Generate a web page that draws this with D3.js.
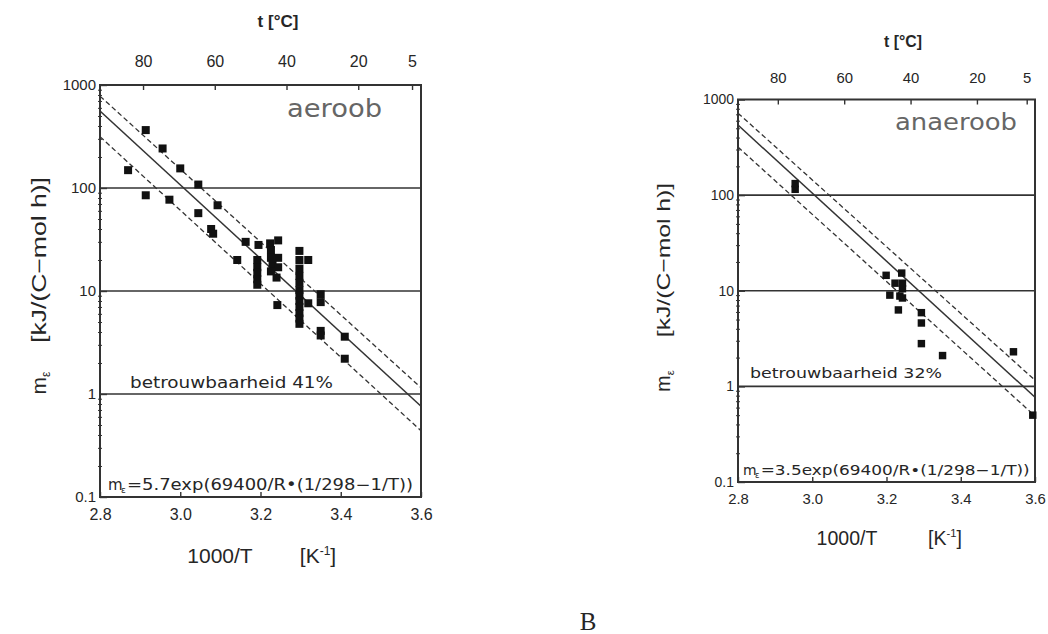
<!DOCTYPE html>
<html>
<head>
<meta charset="utf-8">
<script src="https://cdn.jsdelivr.net/npm/d3@7"></script>
<style>
body { margin: 0; background: #fff; }
svg text { fill: #262626; }
.tick line { stroke: #333; }
</style>
</head>
<body>
<div id="chart"></div>
<script>
// values
var xTicks = [2.8, 3.0, 3.2, 3.4, 3.6];
var yTicks = [0.1, 1, 10, 100, 1000];
var gridVals = [1, 10, 100];
var tTicks = [80, 60, 40, 20, 5];

// aerobic points [1000/T, m_e]
var aeroob = [
  [2.870, 149], [2.914, 365], [2.914, 85], [2.956, 242], [2.973, 77],
  [3.000, 155], [3.045, 108], [3.045, 57], [3.093, 68], [3.077, 40],
  [3.082, 36], [3.163, 30], [3.142, 20], [3.195, 28], [3.224, 29],
  [3.244, 31], [3.192, 20], [3.192, 17], [3.192, 15], [3.192, 13],
  [3.192, 11.5], [3.226, 25], [3.226, 21], [3.230, 18], [3.226, 15.5],
  [3.240, 13.5], [3.244, 21], [3.244, 17], [3.242, 7.3], [3.297, 24.5],
  [3.297, 20], [3.297, 16.5], [3.297, 14], [3.297, 12], [3.297, 10.2],
  [3.297, 9], [3.297, 8], [3.297, 7], [3.297, 6.1], [3.297, 5.4],
  [3.297, 4.8], [3.319, 20], [3.319, 7.6], [3.350, 9.3], [3.350, 7.8],
  [3.350, 4.1], [3.350, 3.7], [3.410, 3.6], [3.410, 2.2]
];
// anaerobic points
var anaeroob = [
  [2.954, 115], [2.954, 132], [3.199, 14.5], [3.241, 15.3], [3.223, 12],
  [3.243, 12], [3.243, 10.5], [3.209, 9], [3.236, 8.8], [3.243, 8.4],
  [3.232, 6.3], [3.294, 5.9], [3.294, 4.6], [3.294, 2.8], [3.351, 2.1],
  [3.542, 2.3], [3.594, 0.5]
];

// fitted line and band ends (straight on the log axis)
var fitAero = [[2.8, 560], [3.6, 0.76]];
var upperAero = [[2.8, 780], [3.6, 1.15]];
var lowerAero = [[2.8, 315], [3.6, 0.44]];
var fitAnaero = [[2.8, 540], [3.6, 0.77]];
var upperAnaero = [[2.8, 720], [3.6, 1.16]];
var lowerAnaero = [[2.8, 318], [3.6, 0.49]];

var width = 1048, height = 634;
var svg = d3.select("#chart").append("svg").attr("width", width).attr("height", height);
var sans = "Liberation Sans, Arial, sans-serif";
var plotFont = "DejaVu Sans, sans-serif";

function panel(o) {
  var s = o.s;
  var x = d3.scaleLinear().domain([2.8, 3.6]).range([o.x0, o.x1]);
  var y = d3.scaleLog().domain([0.1, 1000]).range([o.y1, o.y0]);
  var tx = d3.scaleLinear().domain([92, 2.5]).range([o.x0, o.x1]);
  var g = svg.append("g");

  g.append("clipPath").attr("id", "clip" + o.id).append("rect")
    .attr("x", o.x0).attr("y", o.y0).attr("width", o.x1 - o.x0).attr("height", o.y1 - o.y0);

  // grid lines at 1, 10, 100
  g.selectAll(".grid").data(gridVals).enter().append("line")
    .attr("x1", o.x0).attr("x2", o.x1)
    .attr("y1", function(d) { return y(d); }).attr("y2", function(d) { return y(d); })
    .attr("stroke", "#333").attr("stroke-width", 1.6);

  // minor log ticks
  var minors = [];
  [0.1, 1, 10, 100].forEach(function(b) {
    for (var k = 2; k <= 9; k++) minors.push(b * k);
  });
  g.append("g").attr("transform", "translate(" + (o.x0 + 2) + ",0)")
    .call(d3.axisLeft(y).tickValues(minors).tickSize(4).tickFormat(""))
    .call(function(a) { a.select(".domain").remove(); });

  // y labels
  g.append("g").attr("transform", "translate(" + o.x0 + ",0)")
    .call(d3.axisLeft(y).tickValues(yTicks).tickSize(-7).tickPadding(4).tickFormat(d3.format("~g")))
    .call(function(a) {
      a.select(".domain").remove();
      a.selectAll("text").attr("font-family", sans).attr("font-size", 15 * s);
      a.selectAll("line").attr("stroke-width", 1.4);
    });

  // bottom axis
  g.append("g").attr("transform", "translate(0," + o.y1 + ")")
    .call(d3.axisBottom(x).tickValues(xTicks).tickSize(-5).tickPadding(12 * s).tickFormat(d3.format(".1f")))
    .call(function(a) {
      a.select(".domain").remove();
      a.selectAll("text").attr("font-family", sans).attr("font-size", 16 * s);
      a.selectAll("line").attr("stroke-width", 1.4);
    });

  // top temperature axis
  g.append("g").attr("transform", "translate(0," + o.y0 + ")")
    .call(d3.axisTop(tx).tickValues(tTicks).tickSize(-5).tickPadding(18 * s))
    .call(function(a) {
      a.select(".domain").remove();
      a.selectAll("text").attr("font-family", sans).attr("font-size", 16 * s);
      a.selectAll("line").attr("stroke-width", 1.4);
    });

  // frame
  g.append("rect").attr("x", o.x0).attr("y", o.y0)
    .attr("width", o.x1 - o.x0).attr("height", o.y1 - o.y0)
    .attr("fill", "none").attr("stroke", "#333").attr("stroke-width", 2);

  var line = d3.line().x(function(d) { return x(d[0]); }).y(function(d) { return y(d[1]); });
  var lg = g.append("g").attr("clip-path", "url(#clip" + o.id + ")");
  lg.append("path").datum(o.fit).attr("d", line).attr("fill", "none").attr("stroke", "#333").attr("stroke-width", 1.5);
  [o.upper, o.lower].forEach(function(dd) {
    lg.append("path").datum(dd).attr("d", line).attr("fill", "none")
      .attr("stroke", "#333").attr("stroke-width", 1.3).attr("stroke-dasharray", "5,3");
  });

  var sz = 8 * s;
  g.selectAll(".pt").data(o.pts).enter().append("rect")
    .attr("x", function(d) { return x(d[0]) - sz / 2; })
    .attr("y", function(d) { return y(d[1]) - sz / 2; })
    .attr("width", sz).attr("height", sz).attr("fill", "#111");

  // texts inside the frame
  g.append("text").attr("x", o.nameX).attr("y", o.nameY).text(o.name)
    .attr("font-family", plotFont).attr("font-size", 24 * s).style("fill", "#666")
    .attr("textLength", o.nameW).attr("lengthAdjust", "spacingAndGlyphs");
  g.append("text").attr("x", o.relX).attr("y", o.relY).text(o.rel)
    .attr("font-family", plotFont).attr("font-size", 16 * s)
    .attr("textLength", o.relW).attr("lengthAdjust", "spacingAndGlyphs");
  g.append("text").attr("x", o.eqX).attr("y", o.eqY).text("m")
    .attr("font-family", plotFont).attr("font-size", 15 * s);
  g.append("text").attr("x", o.eqX + 13 * s).attr("y", o.eqY + 3).text("\u03b5")
    .attr("font-family", plotFont).attr("font-size", 9 * s);
  g.append("text").attr("x", o.eqX + 19 * s).attr("y", o.eqY).text(o.eq)
    .attr("font-family", plotFont).attr("font-size", 15 * s)
    .attr("textLength", o.eqW).attr("lengthAdjust", "spacingAndGlyphs");

  g.append("text").attr("x", o.tX).attr("y", o.tY).attr("text-anchor", "middle")
    .attr("font-family", sans).attr("font-weight", "bold")
    .attr("font-size", 17 * s).text("t [\u00b0C]");

  g.append("text").attr("x", o.axX1).attr("y", o.axY).attr("text-anchor", "middle")
    .attr("font-family", sans).attr("font-size", 21 * s)
    .text("1000/T");
  var k = g.append("text").attr("x", o.axX2).attr("y", o.axY).attr("text-anchor", "middle")
    .attr("font-family", sans).attr("font-size", 21 * s);
  k.append("tspan").text("[K");
  k.append("tspan").text("-1").attr("font-size", 12 * s).attr("dy", -8);
  k.append("tspan").text("]").attr("dy", 8);

  g.append("text").attr("transform", "translate(" + o.yLabX + "," + o.yLabY + ") rotate(-90)")
    .attr("text-anchor", "middle").attr("font-family", sans)
    .attr("font-size", 20 * s).attr("textLength", 166 * s).attr("lengthAdjust", "spacingAndGlyphs")
    .text("[kJ/(C\u2212mol h)]");
  var m = g.append("text").attr("transform", "translate(" + o.yLabX + "," + o.mY + ") rotate(-90)")
    .attr("text-anchor", "middle").attr("font-family", sans)
    .attr("font-size", 21 * s);
  m.append("tspan").text("m");
  m.append("tspan").text("\u03b5").attr("font-size", 12 * s).attr("dy", 4);
}

panel({
  id: "a", s: 1, x0: 100, x1: 421, y0: 85, y1: 497,
  pts: aeroob, fit: fitAero, upper: upperAero, lower: lowerAero,
  name: "aeroob", nameX: 287, nameY: 117, nameW: 95,
  rel: "betrouwbaarheid 41%", relX: 130, relY: 388, relW: 203,
  eq: "=5.7exp(69400/R\u2022(1/298\u22121/T))", eqX: 108, eqY: 490, eqW: 286,
  tX: 278, tY: 27, axX1: 220, axX2: 318, axY: 563,
  yLabX: 46, yLabY: 260, mY: 383
});

panel({
  id: "b", s: 0.93, x0: 738, x1: 1035, y0: 99.5, y1: 482,
  pts: anaeroob, fit: fitAnaero, upper: upperAnaero, lower: lowerAnaero,
  name: "anaeroob", nameX: 895, nameY: 130, nameW: 122,
  rel: "betrouwbaarheid 32%", relX: 750, relY: 378, relW: 192,
  eq: "=3.5exp(69400/R\u2022(1/298\u22121/T))", eqX: 743, eqY: 475, eqW: 269,
  tX: 903, tY: 47, axX1: 847, axX2: 945, axY: 545,
  yLabX: 670, yLabY: 260, mY: 381
});

svg.append("text").attr("x", 588).attr("y", 630).attr("text-anchor", "middle")
  .attr("font-family", "Liberation Serif, Times New Roman, serif")
  .attr("font-size", 25).text("B");
</script>
</body>
</html>
